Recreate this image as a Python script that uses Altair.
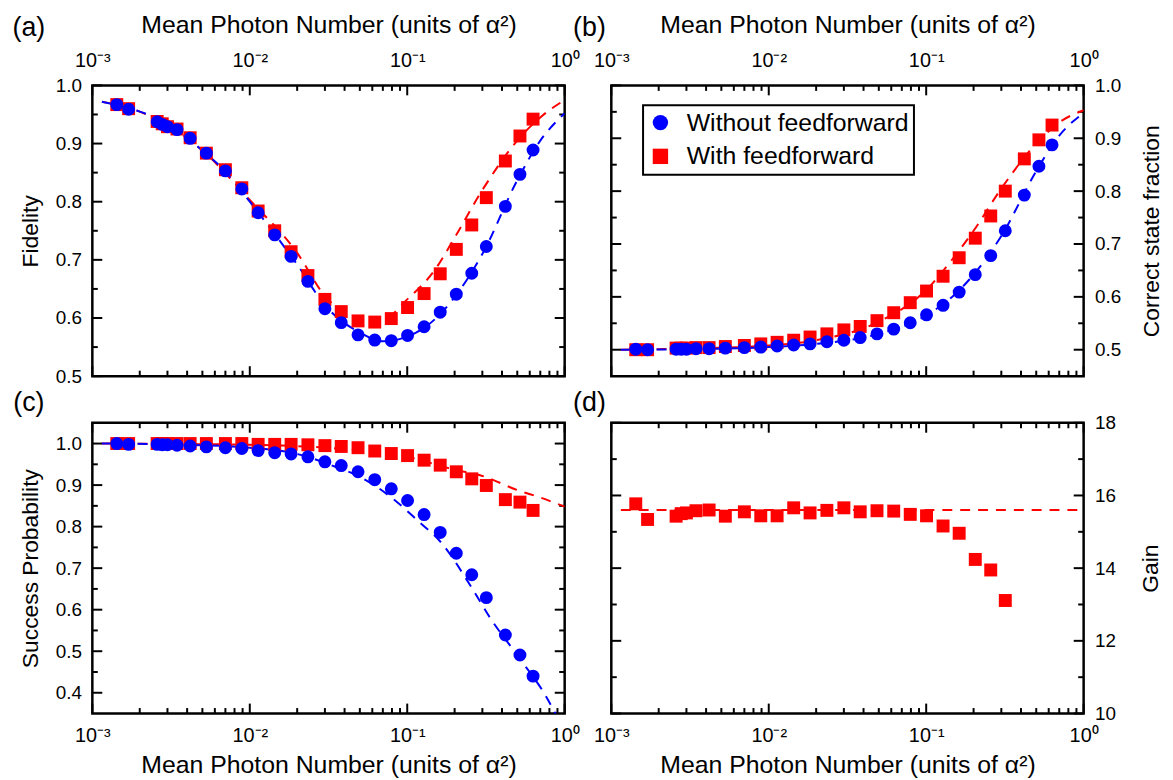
import altair as alt
import pandas as pd

# ---------------- data ----------------
X = [0.00143, 0.00170, 0.00258, 0.00278, 0.00300, 0.00345, 0.00418, 0.0053,
     0.0070, 0.0089, 0.0113, 0.0144, 0.0183, 0.0234, 0.0300, 0.0381, 0.0487,
     0.0622, 0.0792, 0.1005, 0.128, 0.162, 0.205, 0.257, 0.318, 0.42, 0.52, 0.63]

FID_WO = [0.967, 0.959, 0.9375, 0.933, 0.929, 0.924, 0.909, 0.8835, 0.853, 0.822,
          0.781, 0.743, 0.706, 0.663, 0.616, 0.592, 0.571, 0.562, 0.561, 0.570,
          0.585, 0.610, 0.641, 0.677, 0.723, 0.792, 0.847, 0.889]
FID_W = [0.967, 0.960, 0.938, 0.934, 0.929, 0.925, 0.910, 0.8835, 0.855, 0.824,
         0.784, 0.750, 0.714, 0.673, 0.632, 0.611, 0.595, 0.593, 0.599, 0.618,
         0.642, 0.676, 0.718, 0.760, 0.807, 0.870, 0.913, 0.942]

CSF_WO = [0.501, 0.500, 0.501, 0.501, 0.501, 0.502, 0.502, 0.503, 0.504, 0.505,
          0.507, 0.509, 0.511, 0.515, 0.518, 0.523, 0.530, 0.539, 0.551, 0.566,
          0.584, 0.609, 0.642, 0.678, 0.725, 0.7925, 0.847, 0.8875]
CSF_W = [0.500, 0.500, 0.503, 0.503, 0.503, 0.504, 0.504, 0.506, 0.508, 0.511,
         0.514, 0.518, 0.524, 0.530, 0.5375, 0.544, 0.555, 0.570, 0.589, 0.611,
         0.639, 0.674, 0.711, 0.753, 0.800, 0.861, 0.897, 0.925]

SP_WO = [1.0, 0.998, 0.998, 0.997, 0.997, 0.996, 0.994, 0.992, 0.990, 0.988,
         0.983, 0.978, 0.975, 0.968, 0.956, 0.947, 0.932, 0.913, 0.891, 0.863,
         0.829, 0.786, 0.736, 0.684, 0.629, 0.539, 0.491, 0.440]
SP_W = [1.0, 1.0, 1.0, 1.0, 1.0, 1.0, 1.0, 1.0, 1.0, 1.0,
        0.998, 0.998, 0.998, 0.997, 0.995, 0.993, 0.990, 0.982, 0.976, 0.971,
        0.960, 0.948, 0.932, 0.915, 0.899, 0.865, 0.859, 0.839]

GAIN = [15.77, 15.34, 15.43, 15.50, 15.52, 15.58, 15.60, 15.43, 15.55, 15.44,
        15.44, 15.66, 15.52, 15.59, 15.66, 15.55, 15.58, 15.57, 15.48, 15.44,
        15.16, 14.96, 14.24, 13.95, 13.11]

# theory (dashed) curves, read at a few points
FA_WO_X = [0.00115, 0.0015, 0.002, 0.003, 0.005, 0.007, 0.01, 0.015, 0.02, 0.03,
           0.05, 0.07, 0.1, 0.15, 0.2, 0.3, 0.5, 0.7, 1.0]
FA_WO_Y = [0.972, 0.965, 0.955, 0.935, 0.888, 0.852, 0.800, 0.738, 0.692, 0.622,
           0.575, 0.560, 0.568, 0.598, 0.636, 0.710, 0.837, 0.905, 0.952]
FA_W_X = [0.00115, 0.002, 0.005, 0.01, 0.02, 0.03, 0.05, 0.07, 0.1, 0.15, 0.2,
          0.3, 0.5, 0.7, 1.0]
FA_W_Y = [0.972, 0.955, 0.888, 0.803, 0.712, 0.638, 0.600, 0.598, 0.632, 0.683,
          0.738, 0.820, 0.905, 0.945, 0.975]

FB_X = [0.00115, 0.003, 0.01, 0.02, 0.05, 0.1, 0.15, 0.2, 0.3, 0.5, 0.7, 1.0]
FB_WO_Y = [0.500, 0.501, 0.505, 0.511, 0.530, 0.565, 0.603, 0.642, 0.715, 0.838, 0.905, 0.948]
FB_W_Y = [0.500, 0.502, 0.508, 0.518, 0.553, 0.613, 0.675, 0.725, 0.805, 0.890, 0.930, 0.953]

FC_WO_X = [0.00115, 0.003, 0.01, 0.02, 0.035, 0.05, 0.08, 0.12, 0.164, 0.25, 0.338,
           0.5, 0.77, 0.9]
FC_WO_Y = [1.0, 0.998, 0.99, 0.975, 0.944, 0.92, 0.869, 0.81, 0.762, 0.66, 0.579,
           0.49, 0.388, 0.34]
FC_W_X = [0.00115, 0.01, 0.03, 0.1, 0.2, 0.3, 0.5, 0.7, 1.0]
FC_W_Y = [1.0, 0.997, 0.99, 0.968, 0.937, 0.922, 0.888, 0.870, 0.848]

FD_X = [0.00115, 1.0]
FD_Y = [15.6, 15.6]

SERIES = ["Without feedforward", "With feedforward"]
XTITLE = "Mean Photon Number (units of \u03b1\u00b2)"
MAJOR_X = [0.001, 0.01, 0.1, 1.0]
MINOR_X = [m * d for d in (0.001, 0.01, 0.1) for m in range(2, 10)]

# ---------------- styling ----------------
W, H = 476, 293
BLUE, RED = "#0000FF", "#FF0000"
FONT = "Liberation Sans"
MAJ, MIN = 10, 5.5
XLAB = ("datum.value < 0.005 ? '10\u207b\u00b3' : datum.value < 0.05 ? '10\u207b\u00b2' : "
        "datum.value < 0.5 ? '10\u207b\u00b9' : '10\u2070'")


def xs():
    return alt.Scale(type="log", domain=[0.001, 1.0], nice=False)


def ys(dom):
    return alt.Scale(domain=dom, nice=False, zero=False)


def tick_layers(ydom, ymaj, ymin):
    layers = []
    for vals, ln in ((MAJOR_X, MAJ), (MINOR_X, MIN)):
        df = pd.DataFrame({"v": vals})
        for y0, y1 in ((0, ln), (H, H - ln)):
            layers.append(alt.Chart(df).mark_rule(color="black", strokeWidth=2).encode(
                x=alt.X("v:Q", scale=xs(), axis=None),
                y=alt.value(y0), y2=alt.value(y1)))
    for vals, ln in ((ymaj, MAJ), (ymin, MIN)):
        df = pd.DataFrame({"v": vals})
        for x0, x1 in ((0, ln), (W, W - ln)):
            layers.append(alt.Chart(df).mark_rule(color="black", strokeWidth=2).encode(
                y=alt.Y("v:Q", scale=ys(ydom), axis=None),
                x=alt.value(x0), x2=alt.value(x1)))
    return layers


def fit_layer(fx, fy, color, ydom):
    df = pd.DataFrame({"x": fx, "y": fy})
    return alt.Chart(df).mark_line(color=color, strokeDash=[10, 8], strokeWidth=2,
                                   clip=True, interpolate="monotone").encode(
        x=alt.X("x:Q", scale=xs(), axis=None),
        y=alt.Y("y:Q", scale=ys(ydom), axis=None))


def panel(xorient, yorient, ydom, ymaj, ymin, yfmt, ytitle, xvals, ywo, yw,
          fits, label, lab_xy, legend=False, ytitlepad=13):
    rows = []
    for xv, yv in zip(xvals[:len(yw)], yw):
        rows.append({"x": xv, "y": yv, "series": SERIES[1]})
    if ywo is not None:
        for xv, yv in zip(xvals, ywo):
            rows.append({"x": xv, "y": yv, "series": SERIES[0]})
    pts = pd.DataFrame(rows)

    if legend:
        leg = alt.Legend(orient="none", legendX=32, legendY=20, title=None,
                         labelFontSize=25, labelFont=FONT, labelColor="black",
                         labelLimit=400, strokeColor="black", fillColor="white",
                         padding=5, rowPadding=8, symbolSize=240, labelOffset=14,
                         symbolStrokeWidth=0, symbolOpacity=1)
    else:
        leg = None

    top = xorient == "top"
    xaxis = alt.Axis(orient=xorient, values=MAJOR_X, labelExpr=XLAB, tickSize=0,
                     domain=False, grid=False, labelFont=FONT, labelFontSize=20,
                     labelColor="black", labelPadding=15 if top else 12,
                     labelFlush=False, title=XTITLE, titleFont=FONT, titleFontSize=25,
                     titleFontWeight="normal", titleColor="black",
                     titlePadding=13 if top else 7)
    right = yorient == "right"
    yaxis = alt.Axis(orient=yorient, values=ymaj, format=yfmt, tickSize=0,
                     domain=False, grid=False, labelFont=FONT, labelFontSize=19,
                     labelColor="black", labelPadding=11, labelFlush=False,
                     title=ytitle, titleFont=FONT, titleFontSize=23,
                     titleFontWeight="normal", titleColor="black",
                     titleAngle=270, titleBaseline="top" if right else "bottom",
                     titlePadding=ytitlepad)

    points = alt.Chart(pts).mark_point(filled=True, opacity=1, size=170).encode(
        x=alt.X("x:Q", scale=xs(), axis=xaxis),
        y=alt.Y("y:Q", scale=ys(ydom), axis=yaxis),
        color=alt.Color("series:N", scale=alt.Scale(domain=SERIES, range=[BLUE, RED]),
                        legend=leg),
        shape=alt.Shape("series:N", scale=alt.Scale(domain=SERIES, range=["circle", "square"]),
                        legend=leg),
        order=alt.Order("ord:Q"),
    ).transform_calculate(ord=f"datum.series == '{SERIES[1]}' ? 0 : 1")

    lab = alt.Chart(pd.DataFrame({"t": [label]})).mark_text(
        font=FONT, fontSize=27, color="black").encode(
        text="t:N", x=alt.value(lab_xy[0]), y=alt.value(lab_xy[1]))

    layers = tick_layers(ydom, ymaj, ymin)
    layers += [fit_layer(fx, fy, c, ydom) for fx, fy, c in fits]
    layers += [points, lab]
    return alt.layer(*layers).resolve_axis(x="independent", y="independent").properties(
        width=W, height=H)


a = panel("top", "left", [0.5, 1.0], [0.5, 0.6, 0.7, 0.8, 0.9, 1.0],
          [0.55, 0.65, 0.75, 0.85, 0.95], ".1f", "Fidelity", X, FID_WO, FID_W,
          [(FA_W_X, FA_W_Y, RED), (FA_WO_X, FA_WO_Y, BLUE)], "(a)", (-64, -58))
b = panel("top", "right", [0.45, 1.0], [0.5, 0.6, 0.7, 0.8, 0.9, 1.0],
          [0.55, 0.65, 0.75, 0.85, 0.95], ".1f", "Correct state fraction", X, CSF_WO, CSF_W,
          [(FB_X, FB_W_Y, RED), (FB_X, FB_WO_Y, BLUE)], "(b)", (-22, -58), legend=True,
          ytitlepad=20)
c = panel("bottom", "left", [0.35, 1.05], [0.4, 0.5, 0.6, 0.7, 0.8, 0.9, 1.0],
          [0.45, 0.55, 0.65, 0.75, 0.85, 0.95], ".1f", "Success Probability", X, SP_WO, SP_W,
          [(FC_W_X, FC_W_Y, RED), (FC_WO_X, FC_WO_Y, BLUE)], "(c)", (-64, -20))
d = panel("bottom", "right", [10, 18], [10, 12, 14, 16, 18], [11, 13, 15, 17], "d",
          "Gain", X, None, GAIN, [(FD_X, FD_Y, RED)], "(d)", (-22, -20), ytitlepad=24)

chart = alt.concat(a, b, c, d, columns=2, spacing=47, bounds="flush").resolve_scale(
    color="independent", shape="independent"
).properties(
    padding={"left": 3, "top": 0, "right": 0, "bottom": 0}
).configure_view(
    stroke="black", strokeWidth=2.5
).configure_legend(strokeWidth=2)

chart.save("out.html", embed_options={"renderer": "svg", "actions": False})
